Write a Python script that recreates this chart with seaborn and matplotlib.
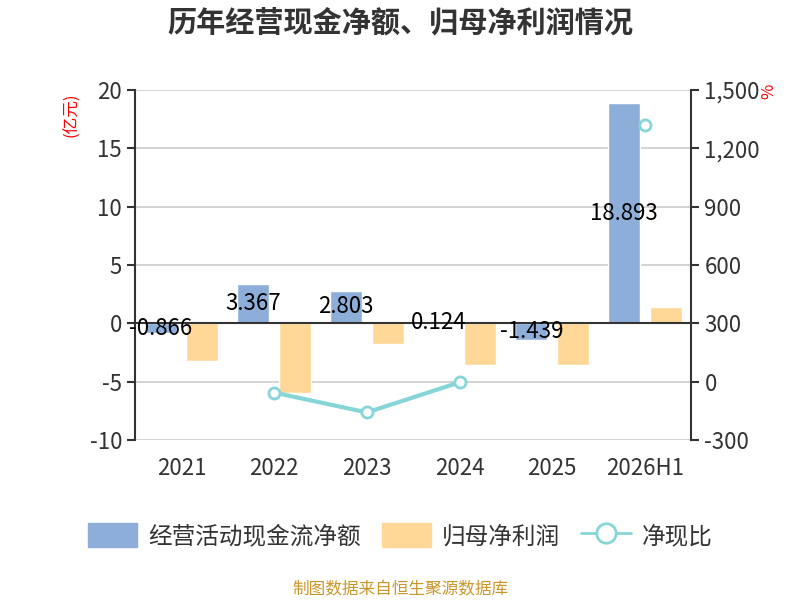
import numpy as np
import pandas as pd
import matplotlib.pyplot as plt
import matplotlib.patches as mpatches
import matplotlib.lines as mlines
from matplotlib.ticker import FuncFormatter
import seaborn as sns

years = ["2021", "2022", "2023", "2024", "2025", "2026H1"]
cash_flow = [-0.866, 3.367, 2.803, 0.124, -1.439, 18.893]
net_profit = [-3.2, -6.0, -1.77, -3.54, -3.57, 1.43]
cash_ratio = [np.nan, -56.1, -158.4, -3.5, np.nan, 1321.2]

blue = "#8EAEDA"
orange = "#FFD898"
teal = "#86D5D9"

sns.set_theme(style="white")
plt.rcParams["font.family"] = ["Noto Sans CJK SC", "DejaVu Sans"]
plt.rcParams["axes.unicode_minus"] = False

df = pd.DataFrame({
    "year": years * 2,
    "value": cash_flow + net_profit,
    "kind": ["经营活动现金流净额"] * 6 + ["归母净利润"] * 6,
})

fig = plt.figure(figsize=(8, 6), dpi=100)
ax = fig.add_axes([0.169, 0.2667, 0.695, 0.5833])

sns.barplot(data=df, x="year", y="value", hue="kind", palette=[blue, orange],
            saturation=1, width=0.9, gap=0.23, ax=ax, legend=False)

ax.set_ylim(-10, 20)
ax.set_yticks([-10, -5, 0, 5, 10, 15, 20])
ax.set_xlim(-0.5, 5.5)
ax.grid(axis="y", color="#cccccc", linewidth=1.2)
ax.set_axisbelow(True)
ax.set_xlabel("")
ax.set_ylabel("")

# category axis drawn at zero, labels at the bottom
ax.spines["bottom"].set_position(("data", 0))
ax.spines["bottom"].set_color("#333333")
ax.spines["bottom"].set_linewidth(1.5)
ax.spines["top"].set_visible(False)
ax.spines["right"].set_visible(False)
ax.spines["left"].set_color("#333333")
ax.spines["left"].set_linewidth(1.5)
ax.set_xticks(range(len(years)))
ax.set_xticklabels(years)
ax.set_xticks(np.arange(-0.5, 6, 1), minor=True)
ax.tick_params(axis="x", which="major", length=0, pad=96, labelsize=16, labelcolor="#333333")
ax.tick_params(axis="x", which="minor", length=6, width=1.5, color="#333333", direction="out")
ax.tick_params(axis="y", length=6, width=1.5, color="#333333", labelsize=16,
               labelcolor="#333333", left=True)

ax.bar_label(ax.containers[0], labels=[f"{v:.3f}" for v in cash_flow],
             label_type="center", fontsize=16, color="black")

ax2 = ax.twinx()
ax2.plot(range(len(years)), cash_ratio, color=teal, linewidth=3, marker="o",
         markersize=8, markerfacecolor="white", markeredgecolor=teal, markeredgewidth=2)
ax2.set_ylim(-300, 1500)
ax2.set_yticks([-300, 0, 300, 600, 900, 1200, 1500])
ax2.yaxis.set_major_formatter(FuncFormatter(lambda v, p: f"{int(v):,}"))
ax2.grid(False)
for s in ["top", "left", "bottom"]:
    ax2.spines[s].set_visible(False)
ax2.spines["right"].set_color("#333333")
ax2.spines["right"].set_linewidth(1.5)
ax2.tick_params(axis="y", length=6, width=1.5, color="#333333", labelsize=16,
                labelcolor="#333333", right=True)

fig.text(0.09, 0.808, "(亿元)", color="red", fontsize=12, rotation=90,
         ha="center", va="center")
fig.text(0.961, 0.848, "%", color="red", fontsize=12, rotation=90,
         ha="center", va="center")

fig.text(0.5, 0.962, "历年经营现金净额、归母净利润情况", fontsize=21,
         fontweight="bold", color="#333333", ha="center", va="center")

handles = [
    mpatches.Patch(color=blue, label="经营活动现金流净额"),
    mpatches.Patch(color=orange, label="归母净利润"),
    mlines.Line2D([], [], color=teal, linewidth=2, marker="o", markersize=14,
                  markerfacecolor="white", markeredgecolor=teal, markeredgewidth=2,
                  label="净现比"),
]
fig.legend(handles=handles, loc="center", bbox_to_anchor=(0.5, 0.107), ncol=3,
           frameon=False, fontsize=17, handlelength=2.1, handleheight=1.15,
           handletextpad=0.45, columnspacing=0.9, labelcolor="#333333")

fig.text(0.5, 0.017, "制图数据来自恒生聚源数据库", fontsize=12, color="#C9962B",
         ha="center", va="center")

fig.savefig("out.png", dpi=100)
